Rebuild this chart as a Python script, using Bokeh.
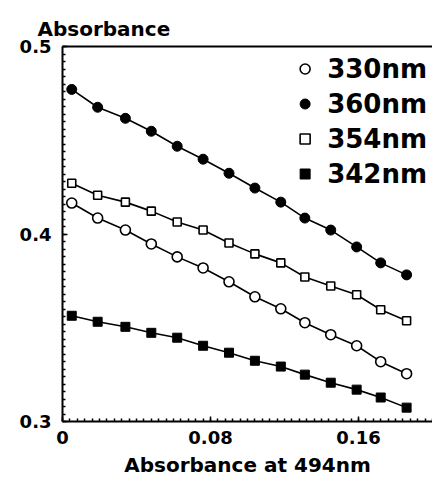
from bokeh.plotting import figure
from bokeh.models import (Range1d, FixedTicker, CustomJSTickFormatter,
                          Legend, LegendItem, LinearAxis, ColumnDataSource)
from bokeh.embed import file_html
from bokeh.resources import INLINE

# ---- data ----
x_vals = [0.005, 0.019, 0.034, 0.048, 0.062, 0.076, 0.090, 0.104, 0.118, 0.131, 0.145, 0.159, 0.172, 0.186]
y_330 = [0.4165, 0.4085, 0.4021, 0.3947, 0.3878, 0.3819, 0.3745, 0.3665, 0.3601, 0.3527, 0.3463, 0.3404, 0.3319, 0.3255]
y_360 = [0.4771, 0.4676, 0.4617, 0.4548, 0.4468, 0.4399, 0.4324, 0.4245, 0.4170, 0.4085, 0.4021, 0.3931, 0.3846, 0.3782]
y_354 = [0.4271, 0.4207, 0.4170, 0.4122, 0.4064, 0.4021, 0.3952, 0.3894, 0.3846, 0.3771, 0.3723, 0.3676, 0.3596, 0.3537]
y_342 = [0.3564, 0.3532, 0.3505, 0.3473, 0.3447, 0.3404, 0.3367, 0.3324, 0.3293, 0.3250, 0.3207, 0.3170, 0.3128, 0.3074]

x_major_ticks = [0, 0.08, 0.16]
y_major_ticks = [0.3, 0.4, 0.5]
series_labels = ["330nm", "360nm", "354nm", "342nm"]

FONT = "DejaVu Sans"

p = figure(width=432, height=479, output_backend="svg", toolbar_location=None,
           x_range=Range1d(0, 0.2), y_range=Range1d(0.3, 0.5),
           min_border_left=62, min_border_right=0, min_border_top=46, min_border_bottom=57)
p.outline_line_color = None
p.xgrid.visible = False
p.ygrid.visible = False

xax = p.below[0]
yax = p.left[0]

# top border line as an axis without ticks/labels
top_axis = LinearAxis(ticker=FixedTicker(ticks=[]), major_label_text_font_size="0px",
                      axis_line_width=2, axis_line_color="black",
                      major_tick_line_color=None, minor_tick_line_color=None)
p.add_layout(top_axis, "above")

src = ColumnDataSource(dict(x=x_vals, y330=y_330, y360=y_360, y354=y_354, y342=y_342))

for col in ["y330", "y360", "y354", "y342"]:
    p.line("x", col, source=src, line_color="black", line_width=1.6)

r330 = p.scatter("x", "y330", source=src, marker="circle", size=10,
                 fill_color="white", line_color="black", line_width=1.6)
r360 = p.scatter("x", "y360", source=src, marker="circle", size=10,
                 fill_color="black", line_color="black")
r354 = p.scatter("x", "y354", source=src, marker="square", size=8,
                 fill_color="white", line_color="black", line_width=1.6)
r342 = p.scatter("x", "y342", source=src, marker="square", size=9,
                 fill_color="black", line_color="black")

legend = Legend(items=[LegendItem(label=series_labels[0], renderers=[r330]),
                       LegendItem(label=series_labels[1], renderers=[r360]),
                       LegendItem(label=series_labels[2], renderers=[r354]),
                       LegendItem(label=series_labels[3], renderers=[r342])],
                location="top_right", label_text_font=FONT, label_text_font_style="bold",
                label_text_font_size="26px", label_text_color="black",
                glyph_width=25, glyph_height=25,
                label_height=35, spacing=0, padding=5, margin=0, label_standoff=10,
                border_line_alpha=0, background_fill_alpha=0)
p.add_layout(legend)

for ax in (xax, yax):
    ax.axis_line_width = 2
    ax.axis_line_color = "black"
    ax.major_tick_in = 5
    ax.major_tick_out = 0
    ax.minor_tick_in = 3
    ax.minor_tick_out = 0
    ax.major_tick_line_width = 1.5
    ax.minor_tick_line_width = 1.5
    ax.major_label_text_font = FONT
    ax.major_label_text_font_style = "bold"
    ax.major_label_text_font_size = "18px"
    ax.major_label_text_color = "black"

xax.ticker = FixedTicker(ticks=x_major_ticks,
                         minor_ticks=[round(i * 0.004, 4) for i in range(51)])
yax.ticker = FixedTicker(ticks=y_major_ticks,
                         minor_ticks=[round(0.3 + i * 0.004, 4) for i in range(51)])
xax.formatter = CustomJSTickFormatter(code="return tick == 0 ? '0' : tick.toFixed(2);")
yax.formatter = CustomJSTickFormatter(code="return tick.toFixed(1);")
xax.major_label_standoff = 9
yax.major_label_standoff = 11

xax.axis_label = "Absorbance at 494nm"
xax.axis_label_text_font = FONT
xax.axis_label_text_font_style = "bold"
xax.axis_label_text_font_size = "20px"
xax.axis_label_text_color = "black"
xax.axis_label_standoff = 6

p.title.text = "Absorbance"
p.title.align = "left"
p.title.offset = -25
p.title.text_font = FONT
p.title.text_font_style = "bold"
p.title.text_font_size = "20px"
p.title.text_color = "black"
p.title.standoff = 11

open("out.html", "w").write(file_html(p, INLINE))
